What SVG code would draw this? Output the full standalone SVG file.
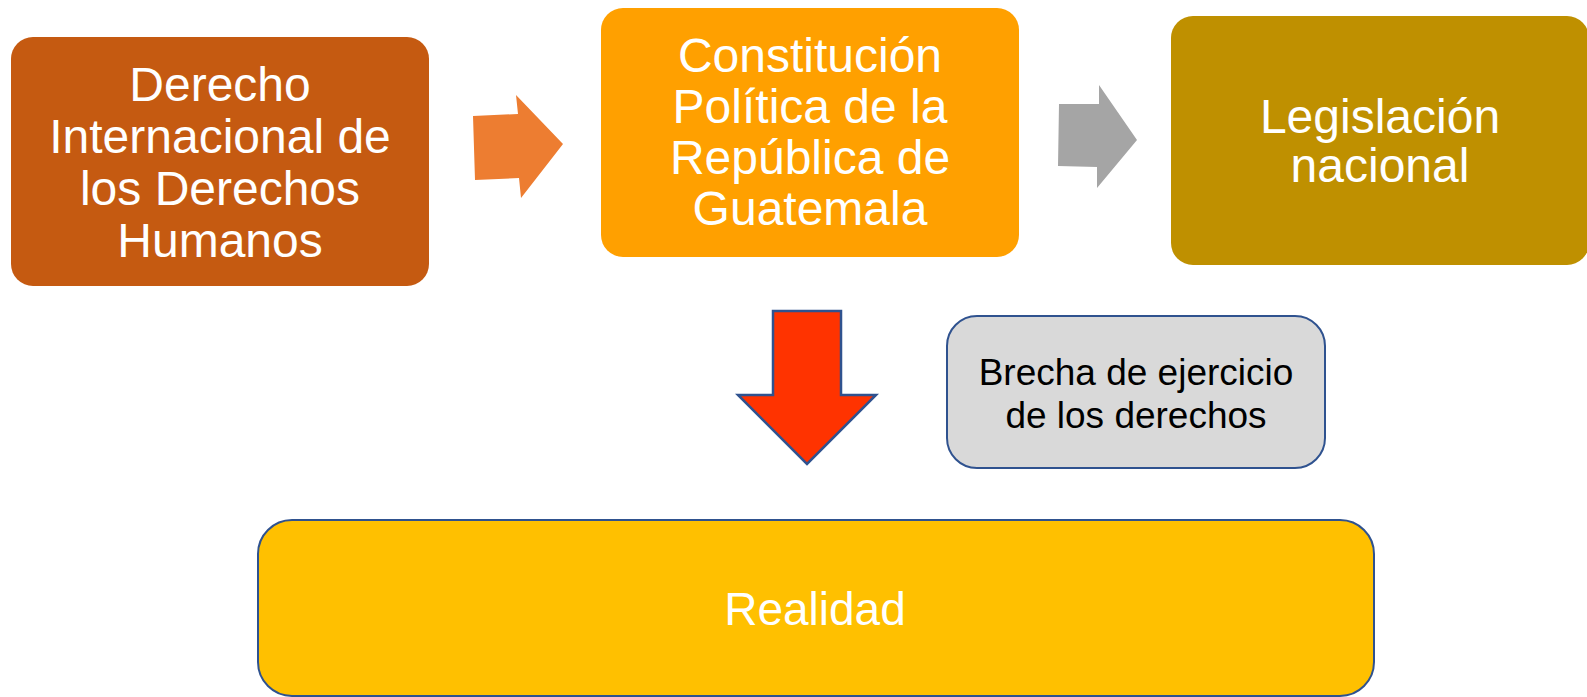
<svg xmlns="http://www.w3.org/2000/svg" width="1587" height="697" viewBox="0 0 1587 697">
<style>
text{font-family:"Liberation Sans",Arial,sans-serif;text-anchor:middle}
.w{fill:#FFFFFF;font-size:48px}
.b{fill:#000000;font-size:37px}
</style>
<rect width="1587" height="697" fill="#FFFFFF"/>
<g id="connectors">
<polygon points="473,116 518,114 516,95 563,144 521,198 519,178 475,180" fill="#ED7D31"/>
<polygon points="1059,104 1099,104 1099,85 1137,140 1097,188 1097,167 1058,166" fill="#A5A5A5"/>
<polygon points="773,311 841,311 841,395 876,395 807,464 738,395 773,395" fill="#FF3300" stroke="#2F528F" stroke-width="2.5" stroke-linejoin="miter"/>
</g>
<g id="n1">
<rect x="11" y="37" width="418" height="249" rx="22" fill="#C55A11"/>
<text class="w"><tspan x="220" y="101">Derecho</tspan><tspan x="220" y="153">Internacional de</tspan><tspan x="220" y="205">los Derechos</tspan><tspan x="220" y="257">Humanos</tspan></text>
</g>
<g id="n2">
<rect x="601" y="8" width="418" height="249" rx="22" fill="#FFA000"/>
<text class="w"><tspan x="810" y="72">Constitución</tspan><tspan x="810" y="123">Política de la</tspan><tspan x="810" y="174">República de</tspan><tspan x="810" y="225">Guatemala</tspan></text>
</g>
<g id="n3">
<rect x="1171" y="16" width="418" height="249" rx="22" fill="#BF9000"/>
<text class="w"><tspan x="1380" y="133">Legislación</tspan><tspan x="1380" y="182">nacional</tspan></text>
</g>
<g id="n4">
<rect x="947" y="316" width="378" height="152" rx="30" fill="#D9D9D9" stroke="#2F528F" stroke-width="2"/>
<text class="b"><tspan x="1136" y="385">Brecha de ejercicio</tspan><tspan x="1136" y="428">de los derechos</tspan></text>
</g>
<g id="n5">
<rect x="258" y="520" width="1116" height="176" rx="34" fill="#FFC000" stroke="#2F528F" stroke-width="2"/>
<text class="w" x="815" y="625" style="font-size:46px">Realidad</text>
</g>
</svg>
